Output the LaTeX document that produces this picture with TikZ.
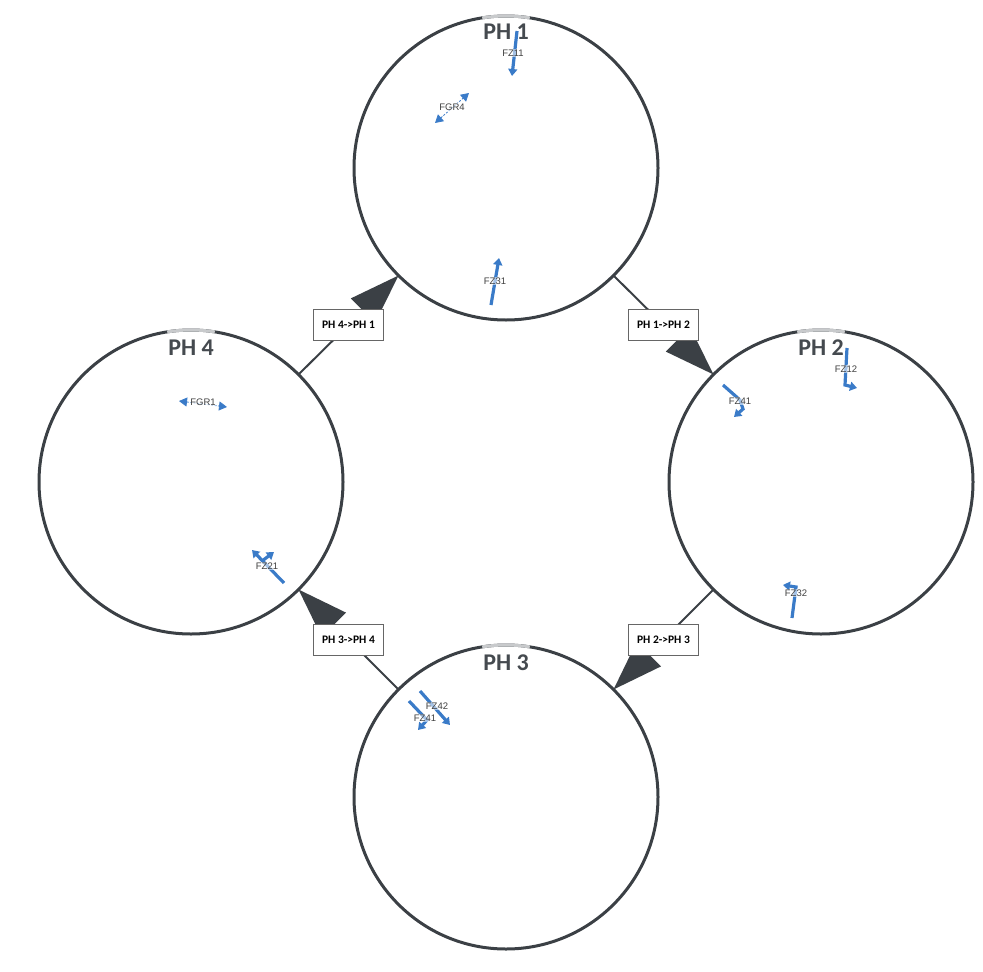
\documentclass[tikz,border=0pt]{standalone}
\usepackage{fontspec}
\setmainfont{Carlito}
\newfontfamily\smallf{Liberation Sans}
\usetikzlibrary{arrows.meta}
\definecolor{ring}{HTML}{3B4045}
\definecolor{fz}{HTML}{3A7BC8}
\definecolor{hlc}{HTML}{C8CACC}
\definecolor{ttlc}{HTML}{454A4F}
\begin{document}
\begin{tikzpicture}[x=1pt,y=-1pt,
  phase/.style={circle, draw=ring, line width=3pt, minimum size=304pt, inner sep=0pt, outer sep=0pt},
  link/.style={draw=ring, line width=2pt, -{Triangle[length=50pt,width=34pt]}},
  tbox/.style={draw=black!60, fill=white, line width=0.8pt, minimum width=70pt, minimum height=31pt, inner sep=0pt, font=\bfseries\fontsize{11.5}{13}\selectfont},
  ttl/.style={text=ttlc, font=\bfseries\fontsize{24}{28}\selectfont, inner sep=0pt},
  fzl/.style={text=black!75, font=\smallf\fontsize{9.5}{10}\selectfont, inner sep=0.5pt, fill=white, fill opacity=0.55, text opacity=1},
  fzarr/.style={draw=fz, line width=3.2pt, -{Triangle[length=7pt,width=9pt]}},
  fgr/.style={draw=fz, line width=0.8pt, dash pattern=on 2pt off 1.5pt, {Triangle[length=8pt,width=9pt]}-{Triangle[length=8pt,width=9pt]}},
  hlarc/.style={draw=hlc, line width=3pt}]
\useasboundingbox (0,0) rectangle (983,972);

% phases
\node[phase] (p1) at (506,168) {};
\node[phase] (p2) at (821,482) {};
\node[phase] (p3) at (506,797) {};
\node[phase] (p4) at (191,482) {};

% highlight arcs at top
\foreach \c in {p1,p2,p3,p4}
  \draw[hlarc] ([shift={(261:152)}]\c.center) arc[start angle=261, end angle=279, radius=152];

% transitions
\draw[link] (p1.-45) -- node[tbox] (t12) {PH 1->PH 2} (p2.135);
\draw[link] (p2.-135) -- node[tbox] (t23) {PH 2->PH 3} (p3.45);
\draw[link] (p3.135) -- node[tbox] (t34) {PH 3->PH 4} (p4.-45);
\draw[link] (p4.45) -- node[tbox] (t41) {PH 4->PH 1} (p1.-135);

% titles
\node[ttl] (l1) at (506,32) {PH 1};
\node[ttl] (l2) at (821,348) {PH 2};
\node[ttl] (l3) at (506,663) {PH 3};
\node[ttl] (l4) at (191,348) {PH 4};

% PH 1 marks
\draw[fzarr] (517,31) -- (512,76);
\node[fzl] (fz11) at (513,53) {FZ11};
\draw[fgr] (435,123) -- (469,93);
\node[fzl] (fgr4) at (452,107) {FGR4};
\draw[fzarr] (491,305) -- (499,258);
\node[fzl] (fz31) at (495,281) {FZ31};

% PH 2 marks
\draw[fzarr] (847,348) -- (845,385) -- (857,388);
\node[fzl] (fz12) at (846,369) {FZ12};
\draw[fzarr] (723,385) -- (740,400) -- (743,409) -- (734,417);
\node[fzl] (fz41b) at (740,401) {FZ41};
\draw[fzarr] (792,618) -- (796,587) -- (783,585);
\node[fzl] (fz32) at (796,593) {FZ32};

% PH 3 marks
\draw[fzarr] (420,691) -- (450,725);
\node[fzl] (fz42) at (437,706) {FZ42};
\draw[fzarr] (409,701) -- (427,720) -- (418,730);
\node[fzl] (fz41c) at (425,718) {FZ41};

% PH 4 marks
\draw[fgr] (179,401) -- (227,407);
\node[fzl] (fgr1) at (203,402) {FGR1};
\draw[fzarr] (284,583) -- (252,550);
\draw[fzarr] (262,561) -- (274,552);
\node[fzl] (fz21) at (267,566) {FZ21};
\end{tikzpicture}
\end{document}
